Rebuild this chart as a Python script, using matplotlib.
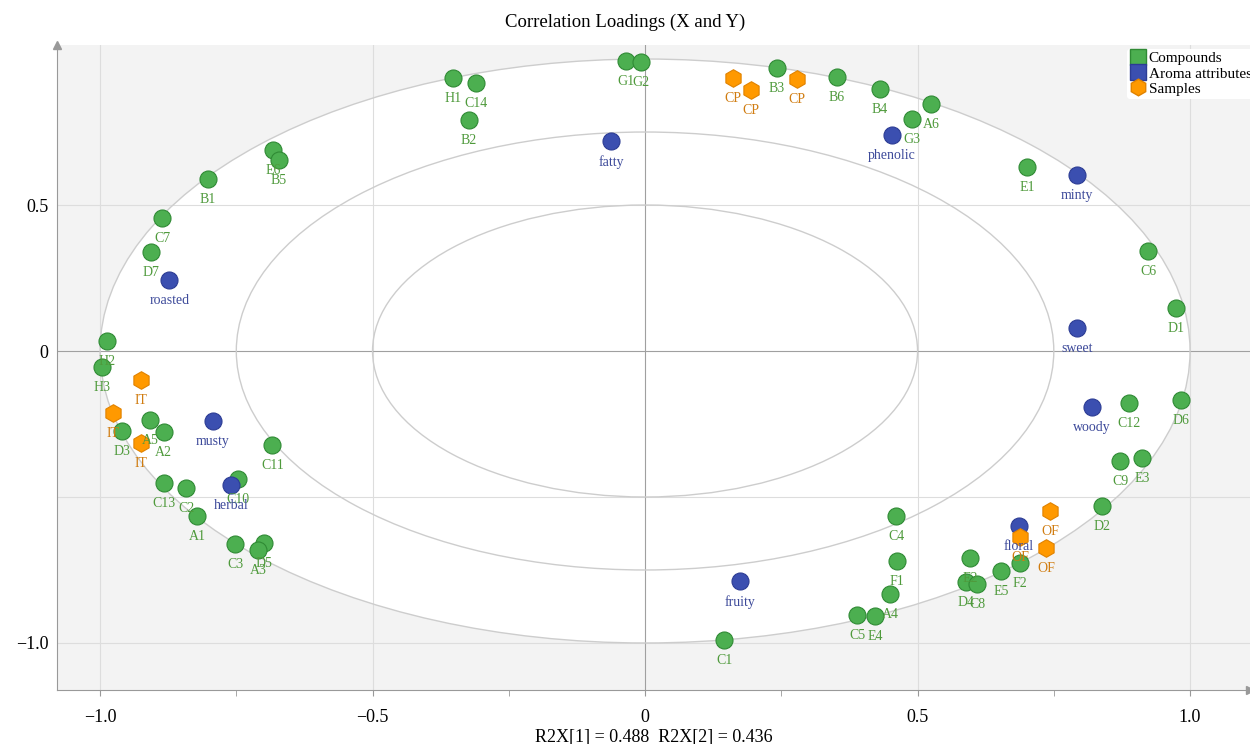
import matplotlib
matplotlib.use("Agg")
import matplotlib.pyplot as plt
from matplotlib.patches import Ellipse
from matplotlib.lines import Line2D

plt.rcParams['font.family'] = ['Liberation Serif', 'DejaVu Serif']

# compounds (X loadings)
comp_names = ['H1', 'C14', 'B2', 'G1', 'G2', 'B3', 'B6', 'B4', 'A6', 'G3', 'E1', 'C6',
              'D1', 'D6', 'C12', 'C9', 'E3', 'D2', 'F2', 'E5', 'E2', 'D4', 'C8', 'C4',
              'F1', 'A4', 'C5', 'E4', 'C1', 'E6', 'B5', 'B1', 'C7', 'D7', 'H2', 'H3',
              'A5', 'A2', 'D3', 'C11', 'C10', 'C13', 'C2', 'A1', 'C3', 'D5', 'A3']
comp_x = [-0.352, -0.310, -0.323, -0.035, -0.007, 0.242, 0.352, 0.431, 0.525, 0.490, 0.701, 0.923,
          0.974, 0.983, 0.888, 0.872, 0.912, 0.839, 0.688, 0.653, 0.596, 0.589, 0.609, 0.461,
          0.462, 0.450, 0.389, 0.422, 0.145, -0.683, -0.672, -0.802, -0.886, -0.906, -0.987, -0.996,
          -0.908, -0.883, -0.960, -0.684, -0.747, -0.883, -0.842, -0.822, -0.752, -0.699, -0.710]
comp_y = [0.935, 0.918, 0.791, 0.993, 0.990, 0.969, 0.938, 0.897, 0.846, 0.795, 0.630, 0.342,
          0.147, -0.168, -0.178, -0.377, -0.366, -0.531, -0.726, -0.753, -0.709, -0.791, -0.798, -0.565,
          -0.719, -0.832, -0.904, -0.908, -0.990, 0.688, 0.654, 0.589, 0.455, 0.339, 0.034, -0.055,
          -0.236, -0.277, -0.274, -0.322, -0.438, -0.452, -0.469, -0.565, -0.661, -0.658, -0.682]

# aroma attributes (Y loadings)
aroma_names = ['fatty', 'phenolic', 'minty', 'roasted', 'sweet', 'woody', 'musty', 'herbal',
               'floral', 'fruity']
aroma_x = [-0.062, 0.453, 0.793, -0.873, 0.793, 0.820, -0.793, -0.760, 0.686, 0.174]
aroma_y = [0.719, 0.740, 0.603, 0.243, 0.079, -0.192, -0.240, -0.459, -0.599, -0.788]

# samples
samp_names = ['CP', 'CP', 'CP', 'IT', 'IT', 'IT', 'OF', 'OF', 'OF']
samp_x = [0.161, 0.195, 0.279, -0.925, -0.976, -0.925, 0.743, 0.688, 0.736]
samp_y = [0.935, 0.894, 0.932, -0.099, -0.212, -0.315, -0.548, -0.637, -0.675]

green, green_edge, green_txt = '#4caf50', '#2f8a34', '#4f9a3c'
blue, blue_edge, blue_txt = '#3b4fb0', '#2c3c94', '#3d4a9a'
orange, orange_edge, orange_txt = '#ff9900', '#e08200', '#d07c10'

fig = plt.figure(figsize=(12.5, 7.44), dpi=100)
ax = fig.add_axes([0.0456, 0.0726, 0.9544, 0.8669])
ax.set_xlim(-1.079, 1.110)
ax.set_ylim(-1.161, 1.048)
ax.set_facecolor('#f3f3f3')

ax.add_patch(Ellipse((0, 0), 2, 2, facecolor='white', edgecolor='none', zorder=0.2))
for r in [1.0, 0.75, 0.5]:
    ax.add_patch(Ellipse((0, 0), 2 * r, 2 * r, facecolor='none', edgecolor='#cdcdcd',
                         lw=1.0, zorder=1.5))

for v in [-1.0, -0.5, 0.5, 1.0]:
    ax.axvline(v, color='#dddddd', lw=0.8, zorder=1)
for v in [-1.0, -0.5, 0.5]:
    ax.axhline(v, color='#dddddd', lw=0.8, zorder=1)
ax.axvline(0, color='#a0a0a0', lw=0.8, zorder=1)
ax.axhline(0, color='#a0a0a0', lw=0.8, zorder=1)

ax.scatter(comp_x, comp_y, s=150, c=green, edgecolors=green_edge, linewidths=0.8, zorder=3)
ax.scatter(aroma_x, aroma_y, s=150, c=blue, edgecolors=blue_edge, linewidths=0.8, zorder=3)
ax.scatter(samp_x, samp_y, s=160, c=orange, marker='h', edgecolors=orange_edge,
           linewidths=0.8, zorder=3)

for names, xs, ys, col in [(comp_names, comp_x, comp_y, green_txt),
                           (aroma_names, aroma_x, aroma_y, blue_txt),
                           (samp_names, samp_x, samp_y, orange_txt)]:
    for n, x, y in zip(names, xs, ys):
        ax.annotate(n, (x, y), xytext=(0, -15), textcoords='offset points', ha='center',
                    va='center', fontsize=10, color=col, zorder=4)

for s in ['top', 'right']:
    ax.spines[s].set_visible(False)
for s in ['left', 'bottom']:
    ax.spines[s].set_color('#999999')
ax.plot(1, 0, '>', color='#999999', ms=6, transform=ax.transAxes, clip_on=False)
ax.plot(0, 1, '^', color='#999999', ms=6, transform=ax.transAxes, clip_on=False)

ax.set_xticks([-1.0, -0.5, 0, 0.5, 1.0])
ax.set_xticklabels(['\u22121.0', '\u22120.5', '0', '0.5', '1.0'], fontsize=13)
ax.set_xticks([-0.75, -0.25, 0.25, 0.75], minor=True)
ax.tick_params(axis='x', which='both', length=4, color='#999999', pad=10)
ax.set_yticks([-1.0, -0.5, 0, 0.5])
ax.set_yticklabels(['\u22121.0', '', '0', '0.5'], fontsize=13)
ax.tick_params(axis='y', length=0, pad=6)

ax.set_xlabel('R2X[1] = 0.488  R2X[2] = 0.436', fontsize=13, labelpad=2)
fig.suptitle('Correlation Loadings (X and Y)', y=0.982, fontsize=13.5)

handles = [Line2D([], [], marker='s', ls='', ms=12, color=green, markeredgecolor=green_edge),
           Line2D([], [], marker='s', ls='', ms=12, color=blue, markeredgecolor=blue_edge),
           Line2D([], [], marker='h', ls='', ms=12, color=orange, markeredgecolor=orange_edge)]
fig.legend(handles, ['Compounds', 'Aroma attributes', 'Samples'], loc='upper right',
           bbox_to_anchor=(1.01, 0.945), frameon=True, facecolor='white', edgecolor='none',
           framealpha=1, fontsize=11, handletextpad=0.2, labelspacing=0.1,
           borderpad=0.2, handlelength=1.0)

fig.savefig('out.png', dpi=100)
